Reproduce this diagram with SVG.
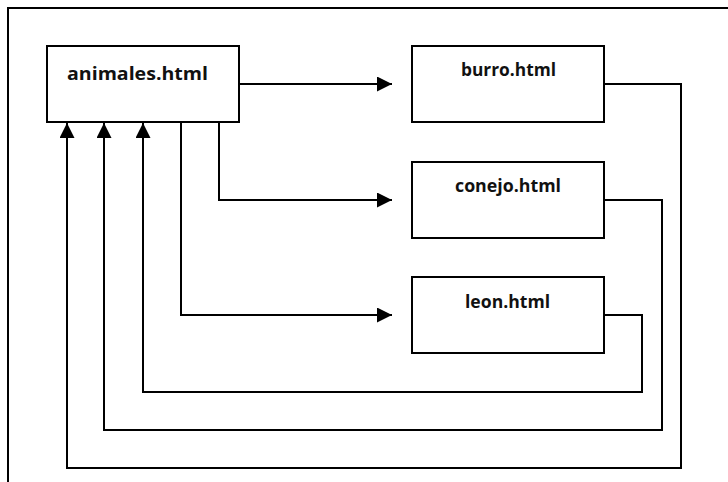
<svg xmlns="http://www.w3.org/2000/svg" width="728" height="482" viewBox="0 0 728 482">
  <style>
    .box { fill: #ffffff; stroke: #000000; stroke-width: 2; }
    .label { font-family: "Open Sans", "Liberation Sans", sans-serif; font-weight: bold; font-size: 18px; fill: #111111; }
    .link { fill: none; stroke: #000000; stroke-width: 2; marker-end: url(#head); }
    .frame { fill: none; stroke: #000000; stroke-width: 2; }
  </style>
  <defs>
    <marker id="head" markerUnits="userSpaceOnUse" markerWidth="15" markerHeight="15" refX="15" refY="7.5" orient="auto">
      <path d="M0,0 L15,7.5 L0,15 Z" fill="#000000"/>
    </marker>
  </defs>

  <rect width="728" height="482" fill="#ffffff"/>
  <!-- page frame, open to the right and bottom -->
  <path class="frame" d="M8,482 V8 H728"/>

  <g id="connectors">
    <path class="link" d="M239,84 H392"/>
    <path class="link" d="M219,122 V200 H392"/>
    <path class="link" d="M181,122 V315 H392"/>
    <path class="link" d="M604,84 H681 V468 H67 V123"/>
    <path class="link" d="M604,200 H662 V430 H104 V123"/>
    <path class="link" d="M604,315 H642 V392 H143 V123"/>
  </g>

  <g id="animales">
    <rect class="box" x="47" y="46" width="192" height="76"/>
    <text class="label" x="67" y="80" textLength="141" lengthAdjust="spacingAndGlyphs">animales.html</text>
  </g>
  <g id="burro">
    <rect class="box" x="412" y="46" width="192" height="76"/>
    <text class="label" x="461" y="76" textLength="95" lengthAdjust="spacingAndGlyphs">burro.html</text>
  </g>
  <g id="conejo">
    <rect class="box" x="412" y="162" width="192" height="76"/>
    <text class="label" x="455" y="192" textLength="106" lengthAdjust="spacingAndGlyphs">conejo.html</text>
  </g>
  <g id="leon">
    <rect class="box" x="412" y="277" width="192" height="76"/>
    <text class="label" x="465" y="308" textLength="85" lengthAdjust="spacingAndGlyphs">leon.html</text>
  </g>
</svg>
